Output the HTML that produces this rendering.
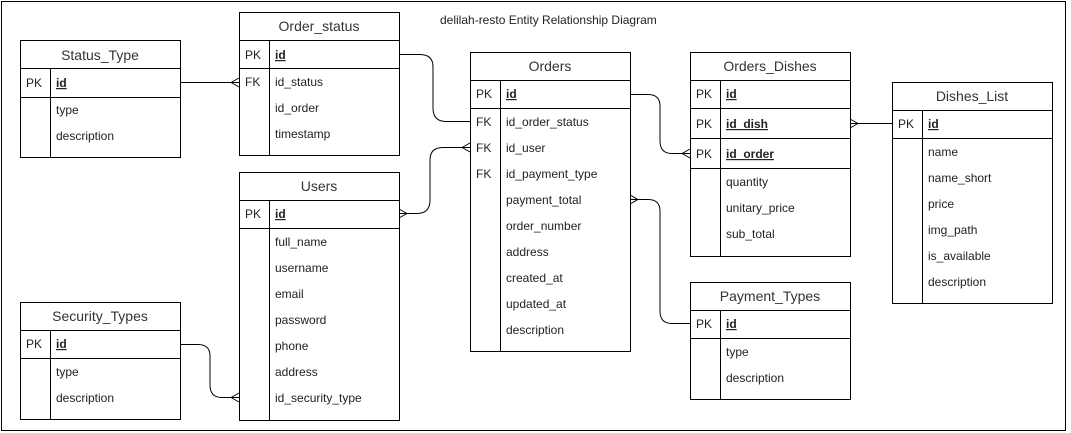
<!DOCTYPE html>
<html><head><meta charset="utf-8"><style>
html,body{margin:0;padding:0;background:#fff;}
svg{display:block;}
text{font-family:"Liberation Sans",Arial,sans-serif;fill:#222;}
.t{font-size:14px;text-anchor:middle;fill:#333;}
.f{font-size:12px;}
.k{font-size:12px;}
.u{text-decoration:underline;font-weight:bold;}
</style></head><body>
<svg width="1071" height="433" viewBox="0 0 1071 433" xmlns="http://www.w3.org/2000/svg">
<rect x="1.5" y="1.5" width="1064" height="429" fill="#fff" stroke="#000" stroke-width="1"/>
<text x="440" y="24" class="f" style="font-size:12px">delilah-resto Entity Relationship Diagram</text>

<g fill="#fff" stroke="#000" stroke-width="1">
<!-- Status_Type -->
<rect x="20.5" y="40.5" width="160" height="117"/>
<line x1="20.5" y1="68.5" x2="180.5" y2="68.5"/><line x1="20.5" y1="97.5" x2="180.5" y2="97.5"/><line x1="50.5" y1="68.5" x2="50.5" y2="157.5"/>
<!-- Order_status -->
<rect x="239.5" y="12.5" width="160" height="143"/>
<line x1="239.5" y1="40.5" x2="399.5" y2="40.5"/><line x1="239.5" y1="68.5" x2="399.5" y2="68.5"/><line x1="269.5" y1="40.5" x2="269.5" y2="155.5"/>
<!-- Users -->
<rect x="239.5" y="172.5" width="160" height="248"/>
<line x1="239.5" y1="200.5" x2="399.5" y2="200.5"/><line x1="239.5" y1="228.5" x2="399.5" y2="228.5"/><line x1="269.5" y1="200.5" x2="269.5" y2="420.5"/>
<!-- Security_Types -->
<rect x="20.5" y="302.5" width="160" height="117"/>
<line x1="20.5" y1="330.5" x2="180.5" y2="330.5"/><line x1="20.5" y1="358.5" x2="180.5" y2="358.5"/><line x1="50.5" y1="330.5" x2="50.5" y2="419.5"/>
<!-- Orders -->
<rect x="470.5" y="52.5" width="160" height="299"/>
<line x1="470.5" y1="80.5" x2="630.5" y2="80.5"/><line x1="470.5" y1="108.5" x2="630.5" y2="108.5"/><line x1="500.5" y1="80.5" x2="500.5" y2="351.5"/>
<!-- Orders_Dishes -->
<rect x="690.5" y="52.5" width="160" height="204"/>
<line x1="690.5" y1="80.5" x2="850.5" y2="80.5"/><line x1="690.5" y1="108.5" x2="850.5" y2="108.5"/><line x1="690.5" y1="138.5" x2="850.5" y2="138.5"/><line x1="690.5" y1="168.5" x2="850.5" y2="168.5"/><line x1="720.5" y1="80.5" x2="720.5" y2="256.5"/>
<!-- Dishes_List -->
<rect x="892.5" y="82.5" width="160" height="221"/>
<line x1="892.5" y1="110.5" x2="1052.5" y2="110.5"/><line x1="892.5" y1="138.5" x2="1052.5" y2="138.5"/><line x1="922.5" y1="110.5" x2="922.5" y2="303.5"/>
<!-- Payment_Types -->
<rect x="690.5" y="282.5" width="160" height="117"/>
<line x1="690.5" y1="310.5" x2="850.5" y2="310.5"/><line x1="690.5" y1="338.5" x2="850.5" y2="338.5"/><line x1="720.5" y1="310.5" x2="720.5" y2="399.5"/>
</g>

<!-- connectors -->
<g fill="none" stroke="#000" stroke-width="1">
<line x1="180" y1="82.5" x2="239" y2="82.5"/>
<path d="M231,82.5 L239,78 M231,82.5 L239,87"/>
<path d="M399,54.5 L420,54.5 Q433,54.5 433,67 L433,108 Q433,121.5 446,121.5 L470,121.5"/>
<path d="M399,213.5 L417,213.5 Q430,213.5 430,200 L430,160 Q430,147.5 443,147.5 L470,147.5"/>
<path d="M407,213.5 L399,209 M407,213.5 L399,218"/>
<path d="M462,147.5 L470,143 M462,147.5 L470,152"/>
<path d="M630,94.5 L648,94.5 Q660,94.5 660,106 L660,141 Q660,153.5 672,153.5 L690,153.5"/>
<path d="M682,153.5 L690,149 M682,153.5 L690,158"/>
<path d="M630,199.5 L648,199.5 Q660,199.5 660,211 L660,311 Q660,323.5 672,323.5 L690,323.5"/>
<path d="M638,199.5 L630,195 M638,199.5 L630,204"/>
<line x1="850" y1="123.5" x2="892" y2="123.5"/>
<path d="M858,123.5 L850,119 M858,123.5 L850,128"/>
<path d="M180,344.5 L198,344.5 Q210,344.5 210,356 L210,385 Q210,397.5 222,397.5 L239,397.5"/>
<path d="M231,397.5 L239,393 M231,397.5 L239,402"/>
</g>

<!-- text -->
<text class="t" x="100" y="60">Status_Type</text>
<text class="k" x="26" y="87">PK</text><text class="f u" x="56" y="87">id</text>
<text class="f" x="56" y="114">type</text><text class="f" x="56" y="140">description</text>

<text class="t" x="319" y="31">Order_status</text>
<text class="k" x="245" y="59">PK</text><text class="f u" x="275" y="59">id</text>
<text class="k" x="245" y="86">FK</text><text class="f" x="275" y="86">id_status</text>
<text class="f" x="275" y="112">id_order</text><text class="f" x="275" y="138">timestamp</text>

<text class="t" x="319" y="191">Users</text>
<text class="k" x="245" y="218">PK</text><text class="f u" x="275" y="218">id</text>
<text class="f" x="275" y="246">full_name</text>
<text class="f" x="275" y="272">username</text>
<text class="f" x="275" y="298">email</text>
<text class="f" x="275" y="324">password</text>
<text class="f" x="275" y="350">phone</text>
<text class="f" x="275" y="376">address</text>
<text class="f" x="275" y="402">id_security_type</text>

<text class="t" x="100" y="321">Security_Types</text>
<text class="k" x="26" y="348">PK</text><text class="f u" x="56" y="348">id</text>
<text class="f" x="56" y="376">type</text><text class="f" x="56" y="402">description</text>

<text class="t" x="550" y="71">Orders</text>
<text class="k" x="476" y="98">PK</text><text class="f u" x="506" y="98">id</text>
<text class="k" x="476" y="126">FK</text><text class="f" x="506" y="126">id_order_status</text>
<text class="k" x="476" y="152">FK</text><text class="f" x="506" y="152">id_user</text>
<text class="k" x="476" y="178">FK</text><text class="f" x="506" y="178">id_payment_type</text>
<text class="f" x="506" y="204">payment_total</text>
<text class="f" x="506" y="230">order_number</text>
<text class="f" x="506" y="256">address</text>
<text class="f" x="506" y="282">created_at</text>
<text class="f" x="506" y="308">updated_at</text>
<text class="f" x="506" y="334">description</text>

<text class="t" x="770" y="71">Orders_Dishes</text>
<text class="k" x="696" y="98">PK</text><text class="f u" x="726" y="98">id</text>
<text class="k" x="696" y="128">PK</text><text class="f u" x="726" y="128">id_dish</text>
<text class="k" x="696" y="158">PK</text><text class="f u" x="726" y="158">id_order</text>
<text class="f" x="726" y="186">quantity</text>
<text class="f" x="726" y="212">unitary_price</text>
<text class="f" x="726" y="238">sub_total</text>

<text class="t" x="972" y="101">Dishes_List</text>
<text class="k" x="898" y="128">PK</text><text class="f u" x="928" y="128">id</text>
<text class="f" x="928" y="156">name</text>
<text class="f" x="928" y="182">name_short</text>
<text class="f" x="928" y="208">price</text>
<text class="f" x="928" y="234">img_path</text>
<text class="f" x="928" y="260">is_available</text>
<text class="f" x="928" y="286">description</text>

<text class="t" x="770" y="301">Payment_Types</text>
<text class="k" x="696" y="328">PK</text><text class="f u" x="726" y="328">id</text>
<text class="f" x="726" y="356">type</text><text class="f" x="726" y="382">description</text>
</svg>
</body></html>
